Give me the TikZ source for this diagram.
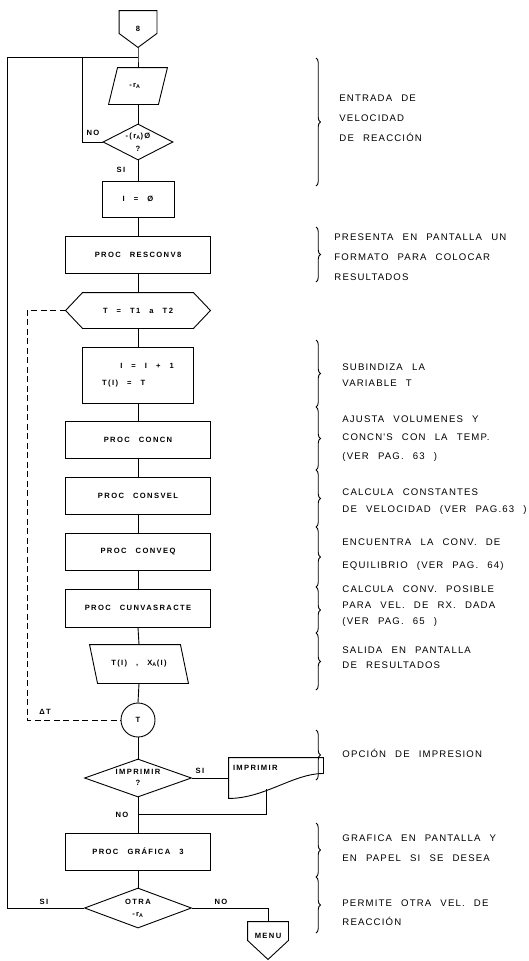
\documentclass[tikz,border=0pt]{standalone}
\usepackage{fontspec}
\usetikzlibrary{shapes.geometric,decorations.pathreplacing}
\newfontfamily\boxfont[LetterSpace=18,WordSpace=2.6]{Liberation Sans}
\newfontfamily\notefont[LetterSpace=12,WordSpace=2.4]{Liberation Sans}
\newcommand\bxf{\boxfont\bfseries\fontsize{7.6}{9}\selectfont}

\begin{document}
\begin{tikzpicture}[x=1pt, y=1pt, line width=0.9pt,
  plain/.style={inner sep=0pt, font=\bxf},
  proc/.style={draw, rectangle, minimum width=145pt, minimum height=37pt, inner sep=0pt},
  ask/.style={draw, diamond, inner sep=0pt},
  tag/.style={inner sep=0pt, font=\bxf},
  note/.style={anchor=west, align=left, inner sep=0pt, font=\notefont\fontsize{9.6}{#1}\selectfont},
  curly/.style={decorate, decoration={brace, amplitude=4.5pt}}]
\useasboundingbox (0,0) rectangle (529,-961);

% main column
\node[plain, minimum width=37pt, minimum height=36pt] (start) at (138,-29){} node[plain] at (start.center){8};
\draw (start.north west) -- (start.north east) -- ([yshift=14pt]start.south east) -- (start.south) -- ([yshift=14pt]start.south west) -- cycle;
\coordinate (topJ) at (138,-57);
\node[plain, minimum width=58pt, minimum height=36pt] (inRA) at (138,-86){} node[plain] at ([xshift=-3pt]inRA.center){-\,r\textsubscript{A}};
\draw ([xshift=9pt]inRA.north west) -- (inRA.north east) -- ([xshift=-9pt]inRA.south east) -- (inRA.south west) -- cycle;
\node[ask, minimum width=70pt, minimum height=36pt] (chkRA) at (138,-142){} node[plain, align=center] at (chkRA.center){-\,(r\textsubscript{A})\,Ø\\[4pt]?};
\node[proc, minimum width=72pt, minimum height=36pt] (setI) at (138,-199){} node[plain] at (setI.center){I = Ø};
\node[proc] (resconv) at (138,-254.5){} node[plain] at (resconv.center){PROC RESCONV8};
\node[plain, minimum width=144pt, minimum height=35pt] (loopT) at (138,-310.5){} node[plain] at (loopT.center){T = T1 a T2};
\draw (loopT.west) -- ([xshift=17pt]loopT.north west) -- ([xshift=-17pt]loopT.north east) -- (loopT.east) -- ([xshift=-17pt]loopT.south east) -- ([xshift=17pt]loopT.south west) -- cycle;
\node[proc, minimum width=111pt, minimum height=56pt] (incI) at (138,-375){} node[plain, align=left] at (incI.center){\ \ I = I + 1\\[8pt]T(I) = T};
\node[proc] (concn) at (138,-440){} node[plain] at (concn.center){PROC CONCN};
\node[proc] (consvel) at (138,-495.5){} node[plain] at (consvel.center){PROC CONSVEL};
\node[proc] (conveq) at (138,-551.5){} node[plain] at (conveq.center){PROC CONVEQ};
\node[proc, minimum height=38pt] (curva) at (138,-608){} node[plain] at (curva.center){PROC CUNVASRACTE};
\node[plain, minimum width=98pt, minimum height=38pt] (outT) at (139,-664){} node[plain] at (outT.center){T(I) , X\textsubscript{A}(I)};
\draw (outT.north west) -- ([xshift=-8pt]outT.north east) -- (outT.south east) -- ([xshift=8pt]outT.south west) -- cycle;
\node[draw, circle, minimum size=34pt, inner sep=0pt] (circT) at (138,-720){} node[plain] at (circT.center){T};
\node[ask, minimum width=107pt, minimum height=38pt] (chkPrint) at (138,-778){} node[plain, align=center] at ([yshift=1pt]chkPrint.center){IMPRIMIR\\[2pt]?};
\node[plain, minimum width=94pt, minimum height=40pt] (docP) at (276,-778){} node[plain, anchor=north west] at ([xshift=4pt,yshift=-7pt]docP.north west){IMPRIMIR};
\draw (docP.north west) -- (docP.north east) -- ([yshift=25pt]docP.south east) .. controls ([xshift=-30pt,yshift=25pt]docP.south east) and ([xshift=36pt]docP.south west) .. (docP.south west) -- cycle;
\coordinate (docFoot) at (266,-789);
\coordinate (merge) at (138,-814);
\node[proc] (graf) at (138,-851.5){} node[plain] at (graf.center){PROC GRÁFICA 3};
\node[ask, minimum width=107pt, minimum height=40pt] (otra) at (138,-908){} node[plain, align=center] at (otra.center){OTRA\\[3pt]-\,r\textsubscript{A}};
\node[plain, minimum width=40pt, minimum height=37pt] (menu) at (268,-940.5){} node[plain] at ([yshift=5pt]menu.center){MENU};
\draw (menu.north west) -- (menu.north east) -- ([yshift=19pt]menu.south east) -- (menu.south) -- ([yshift=19pt]menu.south west) -- cycle;

% flow lines
\draw (start.south) -- (topJ) -- (inRA.north);
\draw (inRA.south) -- (chkRA.north);
\draw (chkRA.south) -- (setI.north);
\draw (setI.south) -- (resconv.north);
\draw (resconv.south) -- (loopT.north);
\draw (loopT.south) -- (incI.north);
\draw (incI.south) -- (concn.north);
\draw (concn.south) -- (consvel.north);
\draw (consvel.south) -- (conveq.north);
\draw (conveq.south) -- (curva.north);
\draw (curva.south) -- (outT.north);
\draw (outT.south) -- (circT.north);
\draw (circT.south) -- (chkPrint.north);
\draw (chkPrint.south) -- (graf.north);
\draw (graf.south) -- (otra.north);

% loops and branches
\coordinate (leftRail) at (7,-57);
\coordinate (dashRail) at (27,-310.5);
\draw (chkRA.west) -- ++(-20pt,0) |- (topJ);
\draw (otra.west) -| (leftRail) -- (topJ);
\draw[dash pattern=on 6pt off 3.5pt] (loopT.west) -- (dashRail) |- (circT.west);
\draw (chkPrint.east) -- (docP.west);
\draw (docFoot) |- (merge);
\draw (otra.east) -| (menu.north);

\node[tag] (noRA) at (93,-133){NO};
\node[tag] (siRA) at (121,-170){SI};
\node[tag] (dT) at (45,-712){ΔT};
\node[tag] (siPrint) at (200,-771){SI};
\node[tag] (noPrint) at (122,-815){NO};
\node[tag] (siOtra) at (44,-902){SI};
\node[tag] (noOtra) at (221,-902){NO};

% comments on the right
\draw[curly] (316,-58) -- (316,-186);
\draw[curly] (316,-227) -- (316,-282);
\draw[curly] (316,-340) -- (316,-407);
\draw[curly] (316,-407) -- (316,-470);
\draw[curly] (316,-470) -- (316,-527);
\draw[curly] (316,-527) -- (316,-587);
\draw[curly] (316,-587) -- (316,-633);
\draw[curly] (316,-633) -- (316,-690);
\draw[curly] (316,-730) -- (316,-780);
\draw[curly] (316,-823) -- (316,-877);
\draw[curly] (316,-877) -- (316,-933);

\node[note=20] (n1) at (339,-118){ENTRADA DE\\VELOCIDAD\\DE REACCIÓN};
\node[note=20] (n2) at (334,-257){PRESENTA EN PANTALLA UN\\FORMATO PARA COLOCAR\\RESULTADOS};
\node[note=16] (n3) at (342,-375){SUBINDIZA LA\\VARIABLE T};
\node[note=18.5] (n4) at (342,-438.5){AJUSTA VOLUMENES Y\\CONCN'S CON LA TEMP.\\(VER PAG. 63 )};
\node[note=17] (n5) at (342,-501.5){CALCULA CONSTANTES\\DE VELOCIDAD (VER PAG.63 )};
\node[note=23] (n6) at (342,-554.5){ENCUENTRA LA CONV. DE\\EQUILIBRIO (VER PAG. 64)};
\node[note=16] (n7) at (342,-606){CALCULA CONV. POSIBLE\\PARA VEL. DE RX. DADA\\(VER PAG. 65 )};
\node[note=15] (n8) at (342,-657.5){SALIDA EN PANTALLA\\DE RESULTADOS};
\node[note=15] (n9) at (342,-753){OPCIÓN DE IMPRESION};
\node[note=20] (n10) at (342,-848){GRAFICA EN PANTALLA Y\\EN PAPEL SI SE DESEA};
\node[note=19] (n11) at (342,-912.5){PERMITE OTRA VEL. DE\\REACCIÓN};
\end{tikzpicture}
\end{document}
